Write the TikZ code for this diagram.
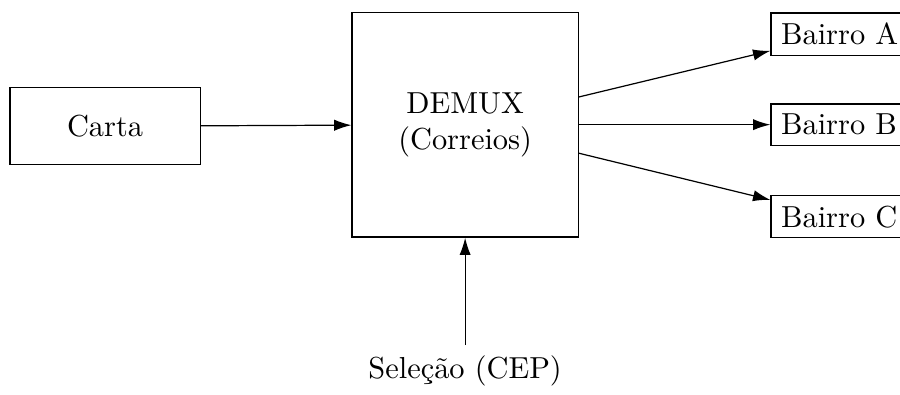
\documentclass[tikz,border=0pt]{standalone}
\usepackage{tikz}
\usetikzlibrary{positioning, arrows.meta}
\tikzset{
    blockbox/.style={rectangle, draw, align=center},
    muxbox/.style={blockbox, minimum width=2.615cm, minimum height=2.6cm},
    outbox/.style={rectangle, draw, anchor=west},
    sigarrow/.style={-{Latex[length=2mm, width=1.3mm]}}
}

\begin{document}
\begin{tikzpicture}
    \useasboundingbox (0,0) rectangle (10.41,4.56);
    \node[blockbox, minimum width=2.2cm, minimum height=0.89cm] (carta) at (1.215,3.1) {Carta};
    \node[muxbox] (demux) at (5.38,3.118) {DEMUX\\(Correios)};
    \node[outbox] (bairroA) at (8.91,4.165) {Bairro A};
    \node[outbox] (bairroB) at (8.91,3.118) {Bairro B};
    \node[outbox] (bairroC) at (8.91,2.054) {Bairro C};
    \node[anchor=north] (selecao) at (5.38,0.567) {Seleção (CEP)};
    \draw[sigarrow] (carta) -- (demux);
    \draw[sigarrow] ([yshift=3.2mm]demux.east) -- (bairroA);
    \draw[sigarrow] (demux) -- (bairroB);
    \draw[sigarrow] ([yshift=-3.3mm]demux.east) -- (bairroC);
    \draw[sigarrow] (selecao) -- (demux);
\end{tikzpicture}
\end{document}
